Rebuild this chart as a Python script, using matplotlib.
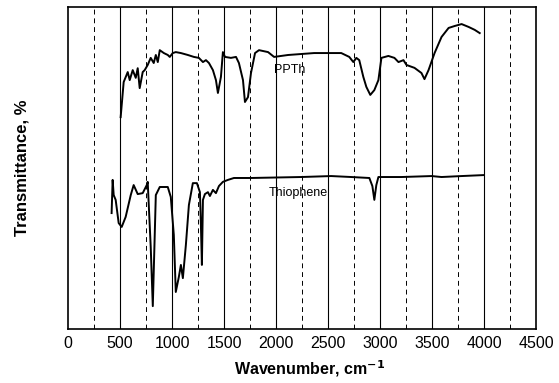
import numpy as np
import matplotlib
matplotlib.use('Agg')
import matplotlib.pyplot as plt

# PPTh spectrum (wavenumber, transmittance in arbitrary %)
ppth_wn = [506, 535, 574, 593, 622, 651, 670, 689, 718, 737, 766, 795, 824, 844, 863,
           882, 921, 959, 978, 1007, 1036, 1085, 1152, 1210, 1258, 1297, 1326, 1355,
           1393, 1422, 1441, 1470, 1489, 1509, 1566, 1615, 1643, 1682, 1701, 1730,
           1759, 1798, 1836, 1923, 1981, 2116, 2241, 2366, 2501, 2627, 2704, 2743,
           2772, 2800, 2839, 2868, 2906, 2945, 2984, 3013, 3080, 3138, 3177, 3225,
           3254, 3331, 3398, 3427, 3466, 3524, 3591, 3659, 3717, 3784, 3852, 3910, 3958]
ppth_t = [65.8, 76.7, 79.8, 77.3, 80.4, 78.0, 81.0, 74.8, 79.8, 80.4, 82.0, 84.2, 82.6,
          85.1, 82.9, 86.6, 85.7, 85.1, 84.5, 85.7, 86.0, 85.7, 85.1, 84.5, 84.2, 82.9,
          83.5, 82.6, 80.4, 77.3, 73.3, 78.3, 86.0, 84.5, 84.2, 84.5, 82.6, 77.3, 70.5,
          72.0, 79.5, 85.7, 86.6, 86.0, 84.5, 85.1, 85.4, 85.7, 85.7, 85.7, 84.5, 82.9,
          84.2, 83.5, 78.3, 75.2, 72.7, 74.2, 77.3, 84.2, 84.8, 84.2, 82.9, 83.5, 82.0,
          81.1, 79.5, 77.6, 80.4, 85.7, 90.7, 93.5, 94.1, 94.7, 93.8, 92.9, 91.9]

# Thiophene spectrum
thio_wn = [419, 429, 439, 458, 487, 516, 554, 603, 631, 670, 718, 757, 766, 795, 815,
           844, 882, 911, 959, 988, 1017, 1036, 1065, 1085, 1104, 1133, 1162, 1200,
           1239, 1268, 1277, 1287, 1297, 1316, 1345, 1364, 1393, 1422, 1451, 1489,
           1537, 1595, 1759, 2241, 2530, 2723, 2897, 2926, 2945, 2964, 2984, 3206,
           3495, 3591, 3784, 3996]
thio_t = [36.0, 46.3, 41.6, 40.1, 32.9, 31.7, 34.8, 41.6, 44.7, 41.9, 42.2, 44.7, 45.7,
          25.5, 7.1, 41.6, 44.1, 44.1, 44.1, 41.0, 29.2, 11.5, 16.1, 19.9, 15.8, 26.1,
          38.5, 45.3, 45.3, 42.5, 32.9, 19.9, 40.1, 41.9, 42.5, 41.3, 43.2, 42.2, 44.4,
          45.7, 46.3, 46.9, 46.9, 47.2, 47.5, 47.2, 46.9, 44.4, 40.1, 44.7, 47.2, 47.2,
          47.5, 47.2, 47.5, 47.8]

major_ticks = np.arange(0, 4501, 500)
minor_ticks = np.arange(250, 4500, 500)

plt.rcParams['font.family'] = ['Liberation Sans', 'DejaVu Sans']

fig = plt.figure(figsize=(5.59, 3.83), dpi=100)
ax = fig.add_axes([0.1217, 0.141, 0.8373, 0.8407])

for x in major_ticks[1:-1]:
    ax.axvline(x, color='black', lw=0.8, zorder=1)
for x in minor_ticks:
    ax.axvline(x, color='black', lw=0.7, ls=(0, (5, 4)), zorder=1)

ax.plot(ppth_wn, ppth_t, color='black', lw=1.4, zorder=3)
ax.plot(thio_wn, thio_t, color='black', lw=1.4, zorder=3)

ax.text(1980, 82.3, 'PPTh', fontsize=9, ha='left', va='top')
ax.text(1933, 44.2, 'Thiophene', fontsize=9, ha='left', va='top')

ax.set_xlim(0, 4500)
ax.set_ylim(0, 100)
ax.set_xticks(major_ticks)
ax.set_xticklabels([str(v) for v in major_ticks], fontsize=11.5)
ax.set_yticks([])
ax.tick_params(axis='x', length=0, pad=5)
for s in ax.spines.values():
    s.set_linewidth(1.2)

ax.set_xlabel('Wavenumber, cm$^{\\mathbf{-1}}$', fontsize=11.5, fontweight='bold')
ax.xaxis.set_label_coords(0.517, -0.092)
ax.set_ylabel('Transmittance, %', fontsize=12, fontweight='bold', labelpad=28)

fig.savefig('out.png', dpi=100)
